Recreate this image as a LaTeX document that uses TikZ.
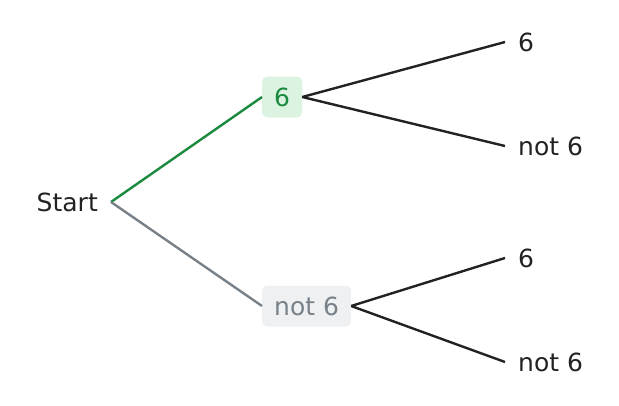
\documentclass[tikz,border=0pt]{standalone}
\usepackage{fontspec}
\setmainfont{DejaVu Sans}
\definecolor{txt}{HTML}{222222}
\definecolor{hit}{HTML}{1A8A3E}
\definecolor{hitbg}{HTML}{DDF3E2}
\definecolor{miss}{HTML}{788088}
\definecolor{missbg}{HTML}{EEF0F1}

\begin{document}
\begin{tikzpicture}[x=1pt,y=-1pt,
    every node/.style={font=\fontsize{25}{30}\selectfont,text=txt,inner xsep=13pt},
    box/.style={rounded corners=5pt,minimum height=41pt,inner xsep=12pt},
    edge/.style={line width=2.4pt}]
  \useasboundingbox (0,0) rectangle (619,405);
  \node[anchor=east] (S) at (111,202) {Start};
  \node[box,fill=hitbg,text=hit,anchor=west]    (A) at (262,97)  {6};
  \node[box,fill=missbg,text=miss,anchor=west]  (B) at (262,306) {not 6};
  \node[anchor=west] (A1) at (505,42)  {6};
  \node[anchor=west] (A2) at (505,146) {not 6};
  \node[anchor=west] (B1) at (505,258) {6};
  \node[anchor=west] (B2) at (505,362) {not 6};

  \draw[edge,hit]  (S.east) -- (A.west);
  \draw[edge,miss] (S.east) -- (B.west);
  \draw[edge,txt] (A.east) -- (A1.west);
  \draw[edge,txt] (A.east) -- (A2.west);
  \draw[edge,txt] (B.east) -- (B1.west);
  \draw[edge,txt] (B.east) -- (B2.west);
\end{tikzpicture}
\end{document}
